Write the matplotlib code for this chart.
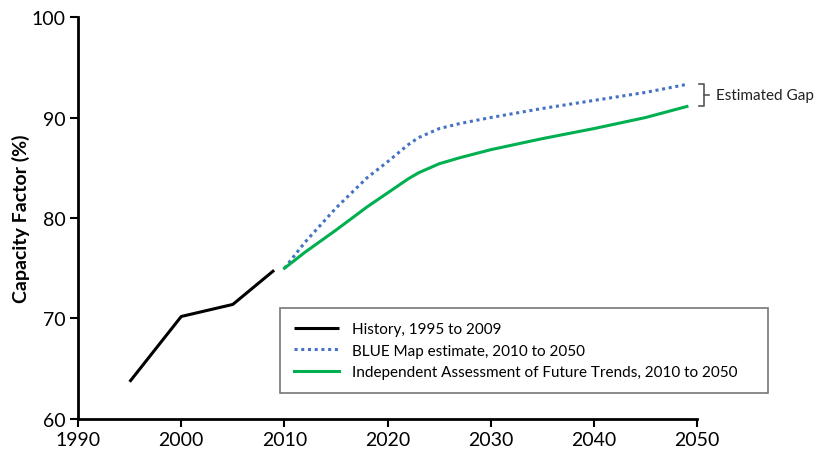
import matplotlib.pyplot as plt

# data
hist_years = [1995, 2000, 2005, 2009]
hist_cf = [63.7, 70.2, 71.4, 74.8]

proj_years = [2010, 2012, 2015, 2018, 2020, 2022, 2023, 2025, 2027, 2030, 2035, 2040, 2045, 2049]
blue_cf = [75.0, 77.6, 81.0, 84.0, 85.6, 87.3, 88.0, 88.9, 89.4, 90.0, 90.9, 91.7, 92.5, 93.3]
green_cf = [75.0, 76.6, 78.8, 81.1, 82.5, 83.9, 84.5, 85.4, 86.0, 86.8, 87.9, 88.9, 90.0, 91.1]

x_ticks = [1990, 2000, 2010, 2020, 2030, 2040, 2050]
y_ticks = [60, 70, 80, 90, 100]

plt.rcParams['font.family'] = ['Lato', 'DejaVu Sans']

fig = plt.figure(figsize=(8.18, 4.56), dpi=100)
ax = fig.add_axes([0.0954, 0.079, 0.757, 0.8815])

ax.plot(hist_years, hist_cf, color="black", lw=2.2, solid_capstyle="butt",
        label="History, 1995 to 2009")
ax.plot(proj_years, blue_cf, color="#4472C4", lw=2.2, linestyle=(0, (1, 1.2)),
        label="BLUE Map estimate, 2010 to 2050")
ax.plot(proj_years, green_cf, color="#00B050", lw=2.2,
        label="Independent Assessment of Future Trends, 2010 to 2050")

ax.set_xlim(1990, 2050)
ax.set_ylim(60, 100)
ax.set_xticks(x_ticks)
ax.set_yticks(y_ticks)
ax.tick_params(labelsize=14, direction="out", length=6, width=1.5, pad=3)
for s in ["top", "right"]:
    ax.spines[s].set_visible(False)
for s in ["left", "bottom"]:
    ax.spines[s].set_linewidth(2)

ax.set_ylabel("Capacity Factor (%)", fontsize=14, fontweight="bold", labelpad=1)

# bracket for the gap between the two projections
bx = proj_years[-1] + 1.2
top, bot = blue_cf[-1], green_cf[-1]
ax.plot([bx, bx + 0.5, bx + 0.5, bx], [top, top, bot, bot], color="#555555",
        lw=1.2, clip_on=False)
mid = (top + bot) / 2
ax.plot([bx + 0.5, bx + 0.9], [mid, mid], color="#555555", lw=1.2, clip_on=False)
ax.text(bx + 1.6, mid, "Estimated Gap", fontsize=11, va="center", ha="left",
        color="#222222")

leg = ax.legend(loc="center left", bbox_to_anchor=(0.326, 0.055, 0.789, 0.229),
                mode="expand", fontsize=11, frameon=True, fancybox=False,
                handlelength=3.0, handletextpad=0.8, labelspacing=0.5,
                borderpad=0.9, borderaxespad=0)
leg.get_frame().set_edgecolor("#555555")
leg.get_frame().set_linewidth(1.2)

fig.savefig("out.png", dpi=100)
